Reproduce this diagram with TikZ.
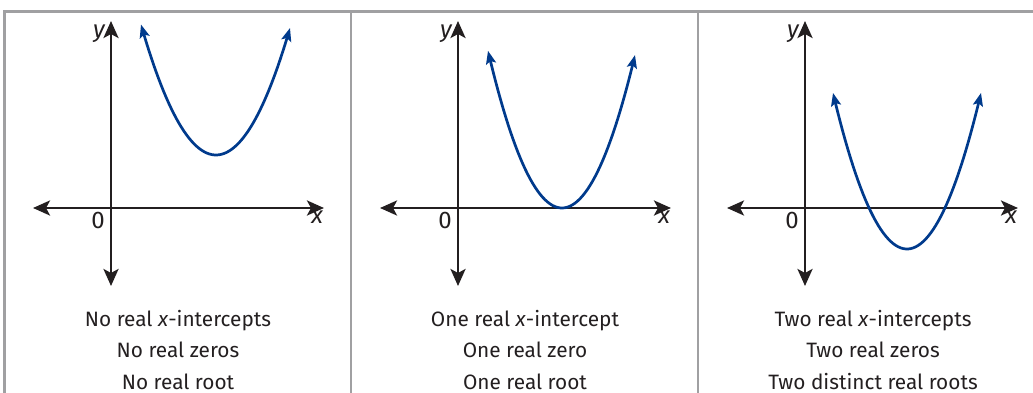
\documentclass[tikz,border=0pt]{standalone}
\usepackage{fontspec}
\setmainfont{Fira Sans}
\usetikzlibrary{arrows.meta}
\definecolor{curveblue}{RGB}{0,58,140}
\definecolor{rulegray}{RGB}{160,160,162}
\definecolor{axisblack}{RGB}{35,31,32}
\tikzset{
  axis/.style={line width=2.8pt, draw=axisblack, {Stealth[length=17pt,width=15pt,inset=4pt]}-{Stealth[length=17pt,width=15pt,inset=4pt]}},
  curve/.style={line width=2.7pt, draw=curveblue, {Stealth[length=13pt,width=10pt,inset=2.5pt]}-{Stealth[length=13pt,width=10pt,inset=2.5pt]}},
  frame/.style={line width=2.8pt, draw=rulegray},
  lbl/.style={font=\fontsize{24}{24}\selectfont, text=axisblack, inner sep=0pt},
  captext/.style={font=\fontsize{20.8}{31.5}\selectfont, text=axisblack, align=center, inner sep=0pt}
}
\begin{document}
\begin{tikzpicture}[x=1pt,y=-1pt]
\useasboundingbox (0,0) rectangle (1033,393);
% frame
\draw[frame] (4.5,393) -- (4.5,11.5) -- (1033,11.5);
\draw[frame] (351,11.5) -- (351,393);
\draw[frame] (698,11.5) -- (698,393);
% panel axes
\foreach \ox/\p in {111/a,458/b,805/c}{
  \coordinate (\p L) at (\ox-78,208);
  \coordinate (\p R) at (\ox+213,208);
  \coordinate (\p B) at (\ox,286);
  \coordinate (\p T) at (\ox,21);
  \draw[axis] (\p L) -- (\p R);
  \draw[axis] (\p B) -- (\p T);
  \node[lbl, anchor=north east] (\p zero) at (\ox-6,212) {0};
  \node[lbl, anchor=north east] (\p xl) at (\ox+212,211) {\itshape x};
  \node[lbl, anchor=south east] (\p yl) at (\ox-6,43) {\itshape y};
}
% curves
\draw[curve, domain=-75:74, samples=60] plot ({216+\x}, {155-0.0232*\x*\x});
\draw[curve, domain=-74:73, samples=60] plot ({562+\x}, {208-0.0287*\x*\x});
\draw[curve, domain=-74:74, samples=60] plot ({907+\x}, {249-0.0285*\x*\x});
% captions
\node[captext] (capa) at (178,350) {No real \textit{x}-intercepts\\No real zeros\\No real root};
\node[captext] (capb) at (525,350) {One real \textit{x}-intercept\\One real zero\\One real root};
\node[captext] (capc) at (873,350) {Two real \textit{x}-intercepts\\Two real zeros\\Two distinct real roots};
\end{tikzpicture}
\end{document}
